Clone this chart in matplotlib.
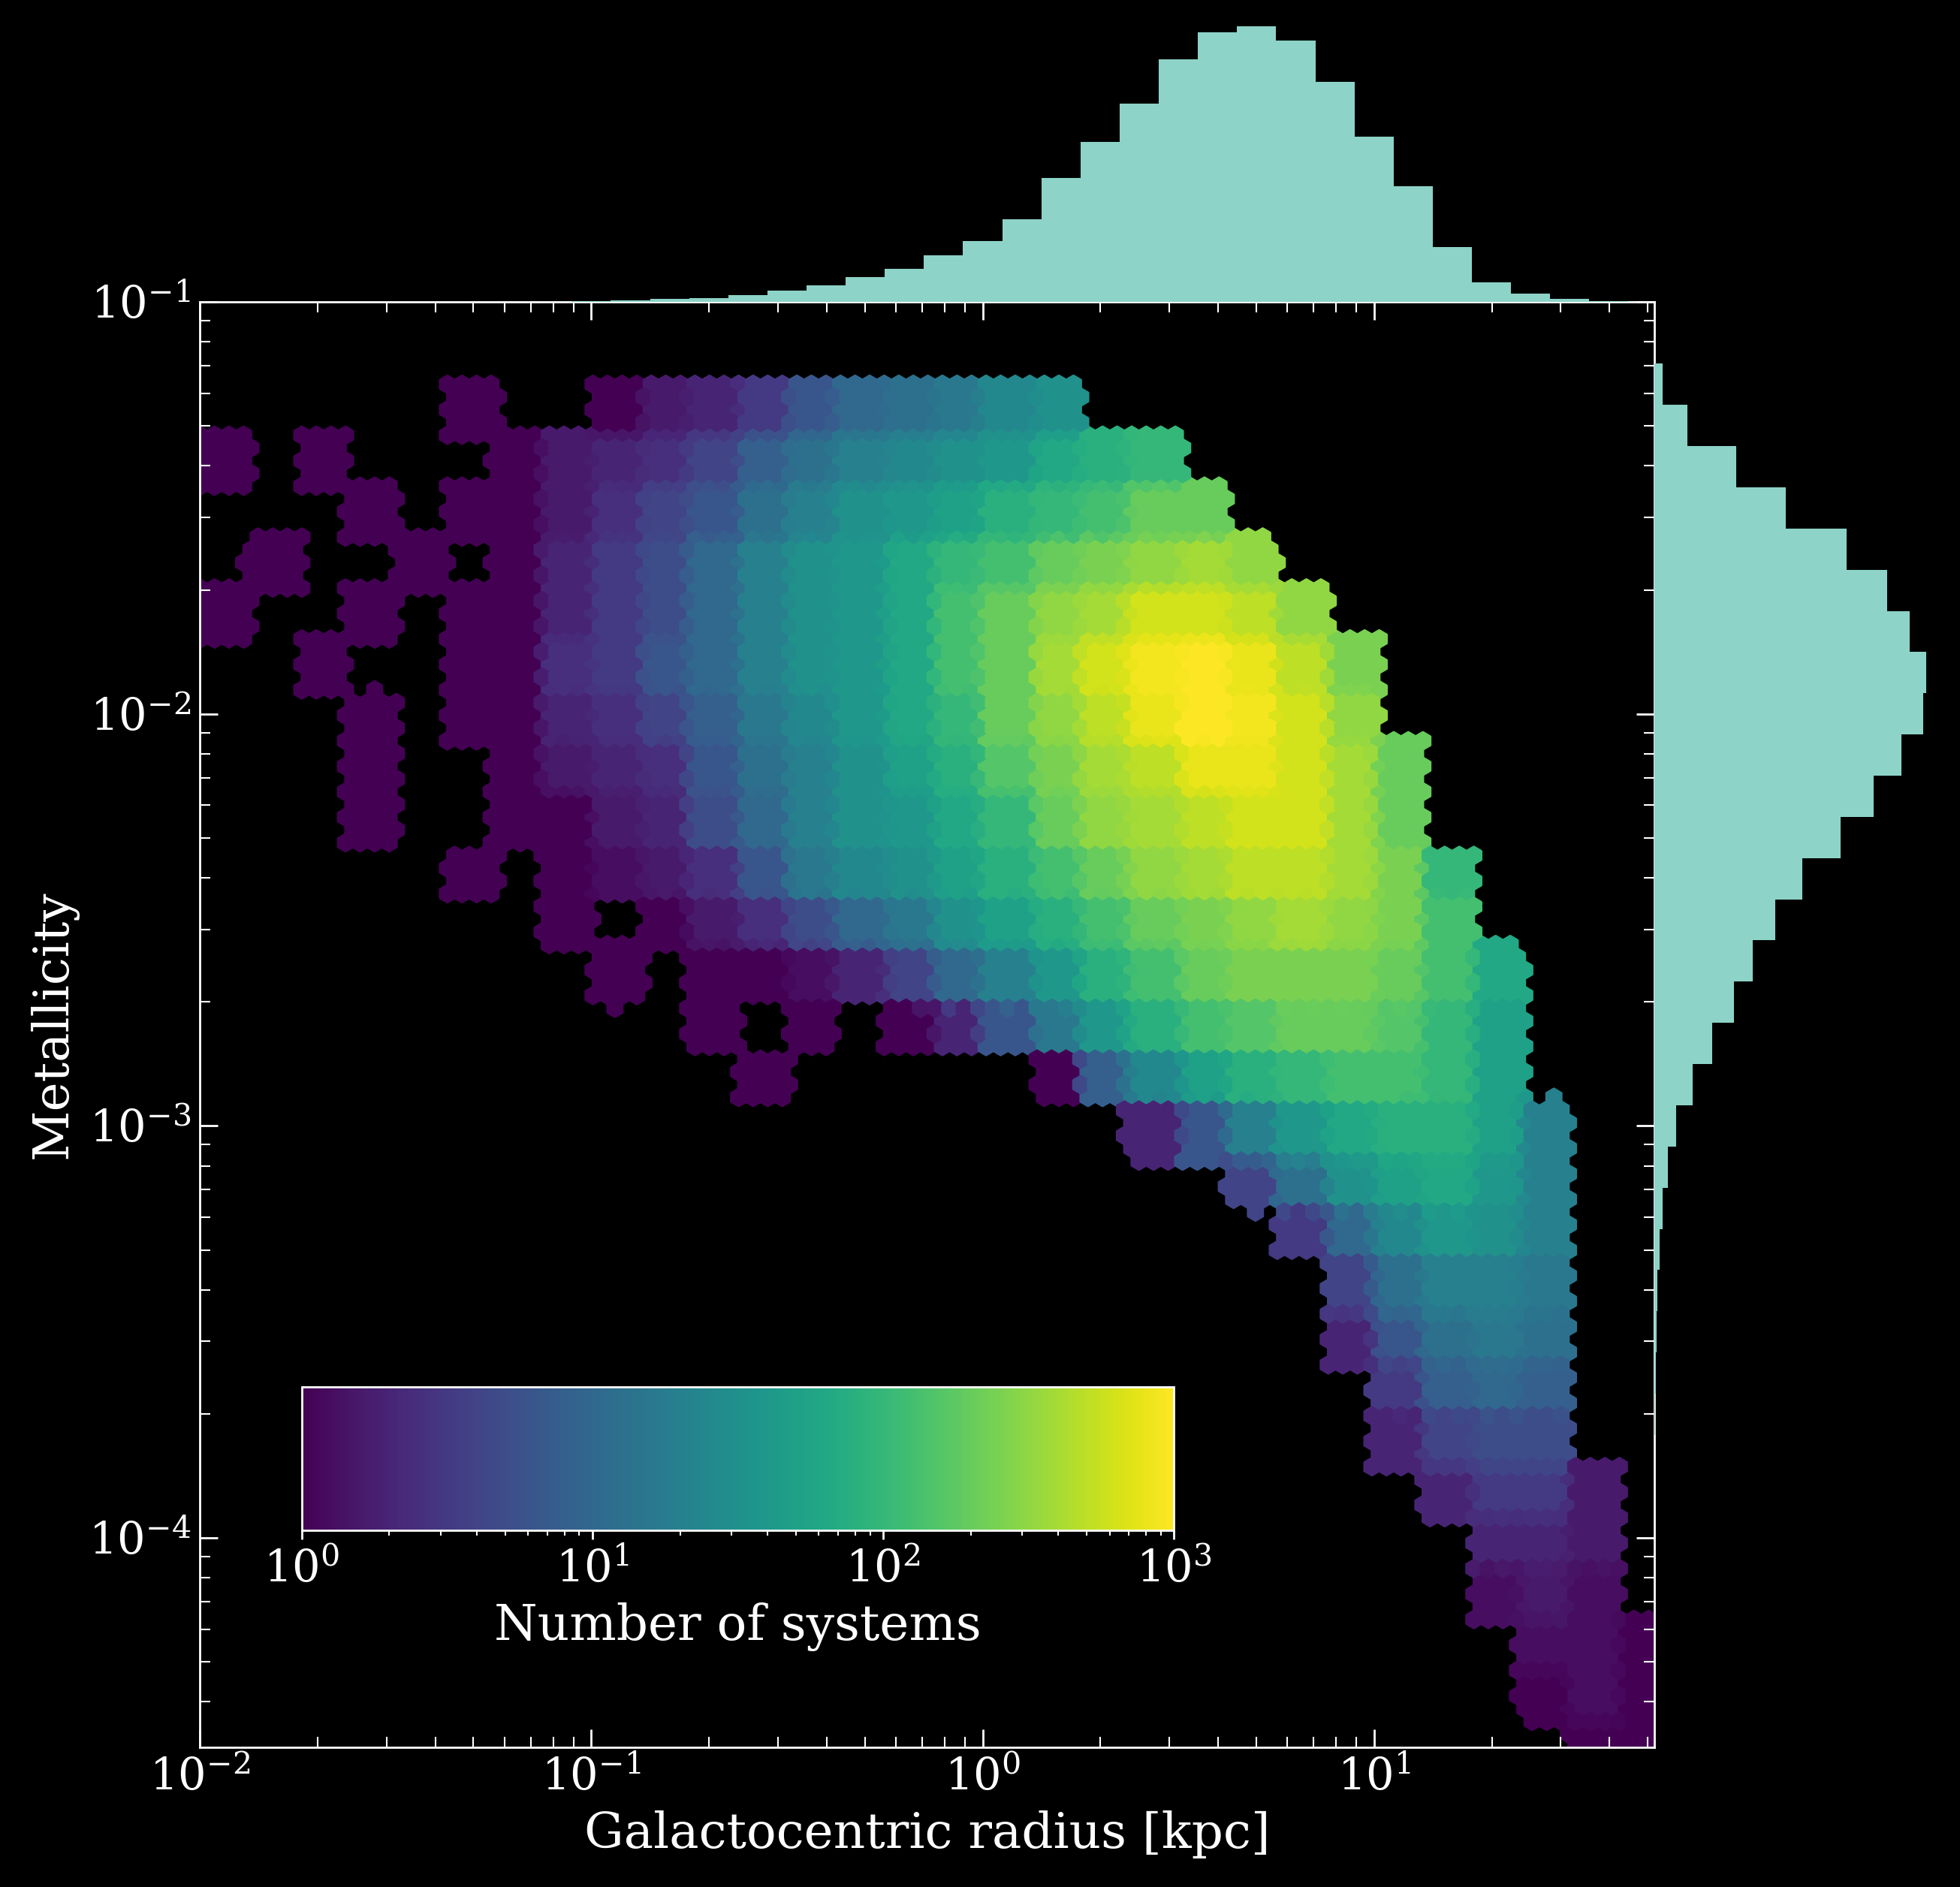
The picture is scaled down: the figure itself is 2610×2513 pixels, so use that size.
import numpy as np
import matplotlib.pyplot as plt
from matplotlib.colors import LogNorm

plt.rcParams['font.family'] = ['DejaVu Serif']
plt.rcParams['text.color'] = 'white'
plt.rcParams['axes.labelcolor'] = 'white'
plt.rcParams['xtick.color'] = 'white'
plt.rcParams['ytick.color'] = 'white'

# density grid: cells of 0.125 dex in log R and log Z.
# each row: (first column index, log10(count) per cell); -1 = empty
log_r_first = -1.9375   # centre of column 0
log_z_first = -1.2625   # centre of row 0 (rows go downward)
cell = 0.125
rows = [
    (5, [0, -1, -1, 0, 0.2, 0.3, 0.5, 0.8, 1.0, 1.1, 1.2, 1.4, 1.5]),
    (0, [0, -1, 0, -1, -1, -1, 0, 0.2, 0.3, 0.4, 0.6, 0.9, 1.1, 1.3, 1.4, 1.5, 1.6, 1.8, 1.9, 2.0]),
    (0, [-1, -1, -1, 0, -1, 0, 0, 0.2, 0.4, 0.6, 0.8, 1.1, 1.3, 1.5, 1.6, 1.7, 1.9, 2.0, 2.1, 2.3, 2.3]),
    (0, [-1, 0, -1, -1, 0, -1, 0, 0.3, 0.5, 0.7, 1.0, 1.3, 1.5, 1.6, 1.8, 2.0, 2.1, 2.3, 2.4, 2.5, 2.6, 2.5]),
    (0, [0, -1, -1, 0, -1, 0, 0, 0.3, 0.5, 0.7, 1.0, 1.3, 1.5, 1.6, 1.8, 2.1, 2.3, 2.5, 2.6, 2.8, 2.8, 2.7, 2.5]),
    (2, [0, -1, -1, 0, 0, 0.4, 0.5, 0.8, 1.0, 1.3, 1.5, 1.6, 1.8, 2.1, 2.3, 2.6, 2.8, 2.95, 3.0, 2.9, 2.7, 2.4]),
    (3, [0, -1, 0, 0, 0.3, 0.4, 0.6, 0.9, 1.2, 1.4, 1.6, 1.8, 2.0, 2.3, 2.5, 2.7, 2.9, 3.0, 2.95, 2.8, 2.5]),
    (3, [0, -1, -1, 0, 0.2, 0.3, 0.4, 0.8, 1.1, 1.3, 1.5, 1.7, 1.9, 2.2, 2.4, 2.6, 2.7, 2.9, 2.9, 2.8, 2.6, 2.3]),
    (3, [0, -1, -1, 0, 0, 0.2, 0.3, 0.7, 1.0, 1.3, 1.5, 1.6, 1.8, 2.0, 2.3, 2.5, 2.6, 2.7, 2.8, 2.8, 2.6, 2.3]),
    (5, [0, -1, 0, 0.1, 0.2, 0.4, 0.8, 1.2, 1.4, 1.5, 1.7, 1.9, 2.1, 2.3, 2.5, 2.6, 2.7, 2.7, 2.6, 2.4, 2.0]),
    (7, [0, -1, 0, 0.2, 0.4, 0.7, 1.0, 1.2, 1.5, 1.7, 1.9, 2.1, 2.3, 2.4, 2.5, 2.6, 2.5, 2.4, 2.1]),
    (8, [0, -1, 0, 0, 0.1, 0.3, 0.6, 1.0, 1.3, 1.6, 1.9, 2.1, 2.3, 2.4, 2.4, 2.4, 2.3, 2.1, 1.8]),
    (10, [0, -1, 0, -1, 0, 0.3, 0.8, 1.2, 1.6, 1.9, 2.1, 2.2, 2.3, 2.3, 2.2, 2.0, 1.7]),
    (11, [0, -1, -1, -1, -1, -1, 0, 0.9, 1.4, 1.7, 1.9, 2.0, 2.1, 2.1, 2.0, 1.7]),
    (19, [0.3, 0.8, 1.3, 1.6, 1.8, 1.9, 1.9, 1.7, 1.3]),
    (21, [0.6, 1.1, 1.5, 1.7, 1.8, 1.6, 1.3]),
    (22, [0.5, 1.0, 1.4, 1.6, 1.5, 1.3]),
    (23, [0.6, 1.1, 1.3, 1.3, 1.2]),
    (23, [0.3, 0.8, 1.1, 1.2, 1.1]),
    (24, [0.5, 0.9, 1.0, 0.9]),
    (24, [0.3, 0.6, 0.7, 0.7]),
    (25, [0.3, 0.5, 0.5, 0.2]),
    (26, [0.3, 0.3, 0.2]),
    (26, [0.1, 0.2, 0.1]),
    (27, [0.1, 0.1, 0]),
    (27, [0, 0.1, 0]),
    (28, [0, 0]),
]

# marginal histograms (relative heights)
top_log_r = [-1.0, -0.9, -0.8, -0.7, -0.6, -0.5, -0.4, -0.3, -0.2, -0.1, 0.0, 0.1, 0.2, 0.3,
             0.4, 0.5, 0.6, 0.7, 0.8, 0.9, 1.0, 1.1, 1.2, 1.3, 1.4, 1.5, 1.6]
top_heights = [0.003, 0.006, 0.01, 0.015, 0.025, 0.04, 0.06, 0.09, 0.12, 0.17, 0.22, 0.3, 0.45,
               0.58, 0.72, 0.88, 0.98, 1.0, 0.95, 0.8, 0.6, 0.42, 0.2, 0.07, 0.03, 0.012, 0.004]
right_log_z = [-1.2, -1.3, -1.4, -1.5, -1.6, -1.7, -1.8, -1.9, -2.0, -2.1, -2.2, -2.3, -2.4,
               -2.5, -2.6, -2.7, -2.8, -2.9, -3.0, -3.1, -3.2, -3.3, -3.4, -3.5, -3.6, -3.7]
right_heights = [0.03, 0.12, 0.3, 0.48, 0.7, 0.85, 0.93, 0.99, 0.98, 0.9, 0.8, 0.68, 0.54,
                 0.44, 0.36, 0.29, 0.21, 0.14, 0.08, 0.05, 0.03, 0.02, 0.012, 0.008, 0.005, 0.003]

grid = np.full((len(rows), 30), -1.0)
for j, (k0, vals) in enumerate(rows):
    grid[j, k0:k0 + len(vals)] = vals

# fine sample positions; each takes the value of the cell it falls in
fx, fy = np.meshgrid(np.arange(-1.99, 1.74, 0.015), np.arange(-4.57, -1.2, 0.015))
fx, fy = fx.ravel(), fy.ravel()
ix = np.clip(np.round((fx - log_r_first) / cell).astype(int), 0, grid.shape[1] - 1)
iy = np.clip(np.round((log_z_first - fy) / cell).astype(int), 0, grid.shape[0] - 1)
val = grid[iy, ix]
keep = val >= 0
xs, ys, cs = 10 ** fx[keep], 10 ** fy[keep], 10 ** val[keep]

fig = plt.figure(figsize=(10.44, 10.052), dpi=250, facecolor='black')
ax = fig.add_axes([0.102, 0.074, 0.742, 0.766], facecolor='black')
ax_top = fig.add_axes([0.102, 0.840, 0.742, 0.146], sharex=ax)
ax_right = fig.add_axes([0.844, 0.074, 0.140, 0.766], sharey=ax)

hb = ax.hexbin(xs, ys, C=cs, reduce_C_function=np.mean, xscale='log', yscale='log',
               gridsize=(100, 55), cmap='viridis', norm=LogNorm(vmin=1, vmax=1000),
               extent=(-2, 1.72, -4.6, -1.2))
ax.set_xlim(1e-2, 52)
ax.set_ylim(3.1e-5, 1e-1)
ax.set_xlabel('Galactocentric radius [kpc]', fontsize=19)
ax.set_ylabel('Metallicity', fontsize=19)
ax.tick_params(which='both', direction='in', top=True, right=True, labelsize=17)
ax.tick_params(which='major', length=7)
ax.tick_params(which='minor', length=4)
for s in ax.spines.values():
    s.set_color('white')

edges_r = 10 ** np.append(np.array(top_log_r) - 0.05, top_log_r[-1] + 0.05)
ax_top.stairs(top_heights, edges_r, fill=True, color='#8dd3c7')
ax_top.set_ylim(0, 1.0)
ax_top.axis('off')

edges_z = 10 ** np.append(np.array(right_log_z) + 0.05, right_log_z[-1] - 0.05)[::-1]
ax_right.stairs(right_heights[::-1], edges_z, fill=True, color='#8dd3c7', orientation='horizontal')
ax_right.set_xlim(0, 1.0)
ax_right.axis('off')

cax = fig.add_axes([0.154, 0.189, 0.445, 0.076])
cb = fig.colorbar(hb, cax=cax, orientation='horizontal')
cb.set_label('Number of systems', fontsize=19, color='white')
cb.ax.tick_params(labelsize=17, color='white', which='both')
cb.outline.set_edgecolor('white')

fig.savefig('out.png', dpi=250, facecolor='black')
